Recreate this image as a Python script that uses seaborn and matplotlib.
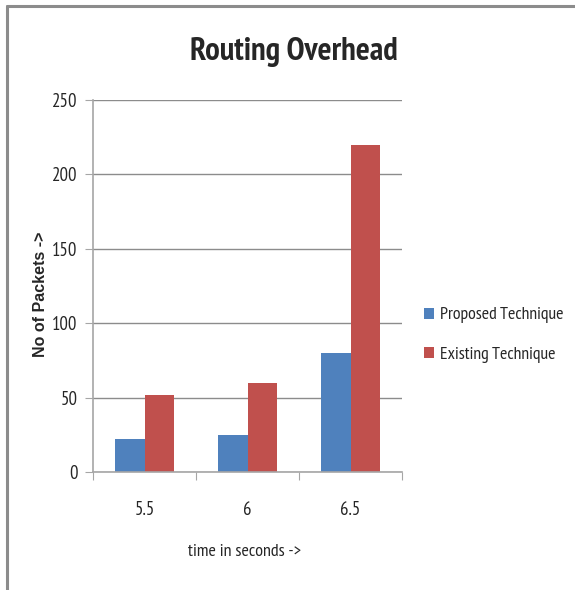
import matplotlib
matplotlib.use("Agg")
import matplotlib.pyplot as plt
import seaborn as sns
import pandas as pd
from matplotlib.patches import Patch

categories = ["5.5", "6", "6.5"]
proposed = [22, 25, 80]
existing = [52, 60, 220]
series_names = ["Proposed Technique", "Existing Technique"]
colors = ["#4F81BD", "#C0504D"]

df = pd.DataFrame({
    "time": categories * 2,
    "packets": proposed + existing,
    "series": [series_names[0]] * 3 + [series_names[1]] * 3,
})

sns.set_style("white")
plt.rcParams["font.family"] = ["PT Sans Narrow", "DejaVu Sans"]

fig = plt.figure(figsize=(5.75, 5.9), dpi=100)
ax = fig.add_axes([93/575, 1-472/590, 309/575, 372/590])

sns.barplot(data=df, x="time", y="packets", hue="series", order=categories,
            hue_order=series_names, palette=colors, width=0.57, saturation=1,
            legend=False, ax=ax, edgecolor="none")

ax.set_ylim(0, 250)
ax.set_xlim(-0.5, 2.5)
ax.set_yticks([0, 50, 100, 150, 200, 250])
ax.yaxis.grid(True, color="#8C8C8C", linewidth=1)
ax.set_axisbelow(True)
for s in ["top", "right"]:
    ax.spines[s].set_visible(False)
for s in ["left", "bottom"]:
    ax.spines[s].set_color("#A6A6A6")
    ax.spines[s].set_linewidth(1.2)

ax.set_xticks([-0.5, 0.5, 1.5, 2.5], minor=False)
ax.set_xticklabels([])
ax.set_xticks([0, 1, 2], minor=True)
ax.set_xticklabels(categories, minor=True)
ax.tick_params(axis="x", which="major", length=6, color="#A6A6A6", direction="out", bottom=True)
ax.tick_params(axis="x", which="minor", length=0, pad=21, labelsize=13.5)
ax.tick_params(axis="y", length=6, color="#A6A6A6", direction="out", left=True, labelsize=13.5, pad=5)

ax.set_xlabel("time in seconds ->", fontsize=13)
ax.xaxis.set_label_coords(152/309, (472-544)/372)
ax.set_ylabel("No of Packets ->", fontsize=11.5, fontweight="bold",
              family=["Liberation Sans", "DejaVu Sans"])
ax.yaxis.set_label_coords((48-93)/309, (472-294)/372)

fig.text(294/575, 1-52/590, "Routing Overhead", ha="center", va="center",
         fontsize=23.5, fontweight="bold")

handles = [Patch(facecolor=c, edgecolor="none") for c in colors]
fig.legend(handles, series_names, loc="center left", bbox_to_anchor=(424/575, 1-335/590),
           frameon=False, fontsize=12.8, handlelength=0.55, handleheight=0.55,
           handletextpad=0.35, labelspacing=1.3, borderpad=0, borderaxespad=0)

# figure border
fig.add_artist(plt.Line2D([7/575, 1], [1-6/590, 1-6/590], color="#8C8C8C", linewidth=2.2))
fig.add_artist(plt.Line2D([7/575, 7/575], [0, 1-6/590], color="#8C8C8C", linewidth=2.2))

fig.savefig("out.png", dpi=100)
